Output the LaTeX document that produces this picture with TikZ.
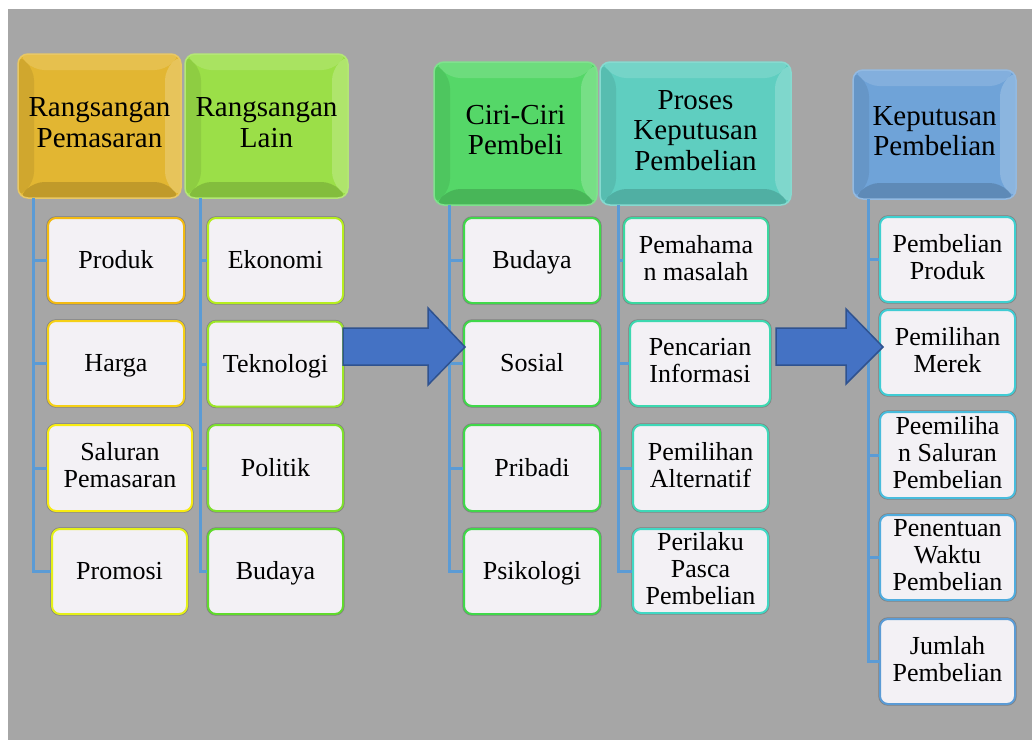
\documentclass[tikz,border=0pt]{standalone}
\usepackage{fontspec}
\setmainfont{Liberation Serif}
\newcommand\cstrut{\rule[-6pt]{0pt}{28pt}}
\newcommand\hstrut{\rule[-7pt]{0pt}{28pt}}
\definecolor{bg}{HTML}{A6A6A6}
\definecolor{boxfill}{HTML}{F3F1F5}
\definecolor{conncol}{HTML}{5B9BD5}
\definecolor{arrfill}{HTML}{4472C4}
\definecolor{arrdraw}{HTML}{2F528F}
\definecolor{hA}{HTML}{E2B632}
\definecolor{hB}{HTML}{9BDF48}
\definecolor{hC}{HTML}{55D768}
\definecolor{hD}{HTML}{5FCEC0}
\definecolor{hE}{HTML}{6FA3D8}
\definecolor{bA1}{HTML}{F2BA12}
\definecolor{bA2}{HTML}{F5D016}
\definecolor{bA3}{HTML}{F8EC10}
\definecolor{bA4}{HTML}{E4F018}
\definecolor{bB1}{HTML}{B6EE1E}
\definecolor{bB2}{HTML}{9CE626}
\definecolor{bB3}{HTML}{7EE02C}
\definecolor{bB4}{HTML}{60DA2C}
\definecolor{bC}{HTML}{40D84A}
\definecolor{bD1}{HTML}{3AD8A0}
\definecolor{bD2}{HTML}{3CD8B0}
\definecolor{bD3}{HTML}{3ED8B8}
\definecolor{bD4}{HTML}{40D8C4}
\definecolor{bE1}{HTML}{3ED0D0}
\definecolor{bE2}{HTML}{40CCD4}
\definecolor{bE3}{HTML}{48BCDC}
\definecolor{bE4}{HTML}{50ACDE}
\definecolor{bE5}{HTML}{5B9BD5}
\begin{document}
\begin{tikzpicture}[x=1pt,y=-1pt,
  hdr/.style={rounded corners=10pt, fill=#1, draw=#1!75!white, line width=1.5pt,
    align=center, inner sep=0pt, font=\fontsize{29}{30.5}\selectfont,
    execute at begin node=\hstrut, execute at end node=\hstrut,
    path picture={
      \fill[white,opacity=0.14] (path picture bounding box.north west) -- (path picture bounding box.north east)
        -- ([xshift=-16pt,yshift=-16pt]path picture bounding box.north east) -- ([xshift=16pt,yshift=-16pt]path picture bounding box.north west) -- cycle;
      \fill[white,opacity=0.20] (path picture bounding box.north east) -- (path picture bounding box.south east)
        -- ([xshift=-16pt,yshift=16pt]path picture bounding box.south east) -- ([xshift=-16pt,yshift=-16pt]path picture bounding box.north east) -- cycle;
      \fill[black,opacity=0.15] (path picture bounding box.south west) -- (path picture bounding box.south east)
        -- ([xshift=-16pt,yshift=16pt]path picture bounding box.south east) -- ([xshift=16pt,yshift=16pt]path picture bounding box.south west) -- cycle;
      \fill[black,opacity=0.08] (path picture bounding box.north west) -- (path picture bounding box.south west)
        -- ([xshift=16pt,yshift=16pt]path picture bounding box.south west) -- ([xshift=16pt,yshift=-16pt]path picture bounding box.north west) -- cycle;
    }},
  child/.style={rounded corners=8pt, fill=boxfill, draw=#1, line width=2pt,
    preaction={draw=black!50, line width=3.4pt},
    align=center, inner sep=0pt, font=\fontsize{26}{27}\selectfont,
    execute at begin node=\cstrut, execute at end node=\cstrut},
  conn/.style={draw=conncol, line width=3pt},
  blockarrow/.style={fill=arrfill, draw=arrdraw, line width=1.5pt, line join=miter}
]
\useasboundingbox (0,0) rectangle (1032,740);
\fill[bg] (8,9) rectangle (1032,740);

% connector trunks
\coordinate (l1) at (33,198);
\coordinate (l2) at (200,198);
\coordinate (l3) at (449,205);
\coordinate (l4) at (618,205);
\coordinate (l5) at (868,199);

% headers
\node[hdr=hA, minimum width=163pt, minimum height=144pt] (h1) at (99.5,126) {Rangsangan\\Pemasaran};
\node[hdr=hB, minimum width=163pt, minimum height=144pt] (h2) at (266.5,126) {Rangsangan\\Lain};
\node[hdr=hC, minimum width=163pt, minimum height=143pt] (h3) at (515.5,133.5) {Ciri-Ciri\\Pembeli};
\node[hdr=hD, minimum width=191pt, minimum height=143pt] (h4) at (695.5,133.5) {Proses\\Keputusan\\Pembelian};
\node[hdr=hE, minimum width=163pt, minimum height=129pt] (h5) at (934.5,134.5) {Keputusan\\Pembelian};

% children column 1
\node[child=bA1, minimum width=136pt, minimum height=85pt] (c11) at (116,260.5) {Produk};
\node[child=bA2, minimum width=136pt, minimum height=85pt] (c12) at (116,363.5) {Harga};
\node[child=bA3, minimum width=144pt, minimum height=86pt] (c13) at (120,468) {Saluran\\Pemasaran};
\node[child=bA4, minimum width=135pt, minimum height=85pt] (c14) at (119.5,571.5) {Promosi};
% column 2
\node[child=bB1, minimum width=135pt, minimum height=85pt] (c21) at (275.5,260.5) {Ekonomi};
\node[child=bB2, minimum width=135pt, minimum height=85pt] (c22) at (275.5,364) {Teknologi};
\node[child=bB3, minimum width=135pt, minimum height=86pt] (c23) at (275.5,468) {Politik};
\node[child=bB4, minimum width=135pt, minimum height=85pt] (c24) at (275.5,571.5) {Budaya};
% column 3
\node[child=bC, minimum width=136pt, minimum height=85pt] (c31) at (532,260.5) {Budaya};
\node[child=bC, minimum width=136pt, minimum height=85pt] (c32) at (532,363.5) {Sosial};
\node[child=bC, minimum width=136pt, minimum height=86pt] (c33) at (532,468) {Pribadi};
\node[child=bC, minimum width=136pt, minimum height=85pt] (c34) at (532,571.5) {Psikologi};
% column 4
\node[child=bD1, minimum width=144pt, minimum height=85pt] (c41) at (696,260.5) {Pemahama\\n masalah};
\node[child=bD2, minimum width=140pt, minimum height=85pt] (c42) at (700,363.5) {Pencarian\\Informasi};
\node[child=bD3, minimum width=135pt, minimum height=86pt] (c43) at (700.5,468) {Pemilihan\\Alternatif};
\node[child=bD4, minimum width=135pt, minimum height=84pt] (c44) at (700.5,571) {Perilaku\\Pasca\\Pembelian};
% column 5
\node[child=bE1, minimum width=135pt, minimum height=85pt] (c51) at (947.5,259.5) {Pembelian\\Produk};
\node[child=bE2, minimum width=135pt, minimum height=85pt] (c52) at (947.5,352.5) {Pemilihan\\Merek};
\node[child=bE3, minimum width=135pt, minimum height=86pt] (c53) at (947.5,455) {Peemiliha\\n Saluran\\Pembelian};
\node[child=bE4, minimum width=135pt, minimum height=85pt] (c54) at (947.5,557.5) {Penentuan\\Waktu\\Pembelian};
\node[child=bE5, minimum width=135pt, minimum height=85pt] (c55) at (947.5,661.5) {Jumlah\\Pembelian};

% connectors
\draw[conn] (l1) |- (c14.west);
\foreach \c in {c11,c12,c13} \draw[conn] (\c.west) -- (\c.west -| l1);
\draw[conn] (l2) |- (c24.west);
\foreach \c in {c21,c22,c23} \draw[conn] (\c.west) -- (\c.west -| l2);
\draw[conn] (l3) |- (c34.west);
\foreach \c in {c31,c32,c33} \draw[conn] (\c.west) -- (\c.west -| l3);
\draw[conn] (l4) |- (c44.west);
\foreach \c in {c41,c42,c43} \draw[conn] (\c.west) -- (\c.west -| l4);
\draw[conn] (l5) |- (c55.west);
\foreach \c in {c51,c52,c53,c54} \draw[conn] (\c.west) -- (\c.west -| l5);

% block arrows
\draw[blockarrow] (343,328) -- (428,328) -- (428,308) -- (465,347) -- (428,385) -- (428,365) -- (343,365) -- cycle;
\draw[blockarrow] (776,328) -- (846,328) -- (846,309) -- (883,347) -- (846,384) -- (846,365) -- (776,365) -- cycle;
\end{tikzpicture}
\end{document}
